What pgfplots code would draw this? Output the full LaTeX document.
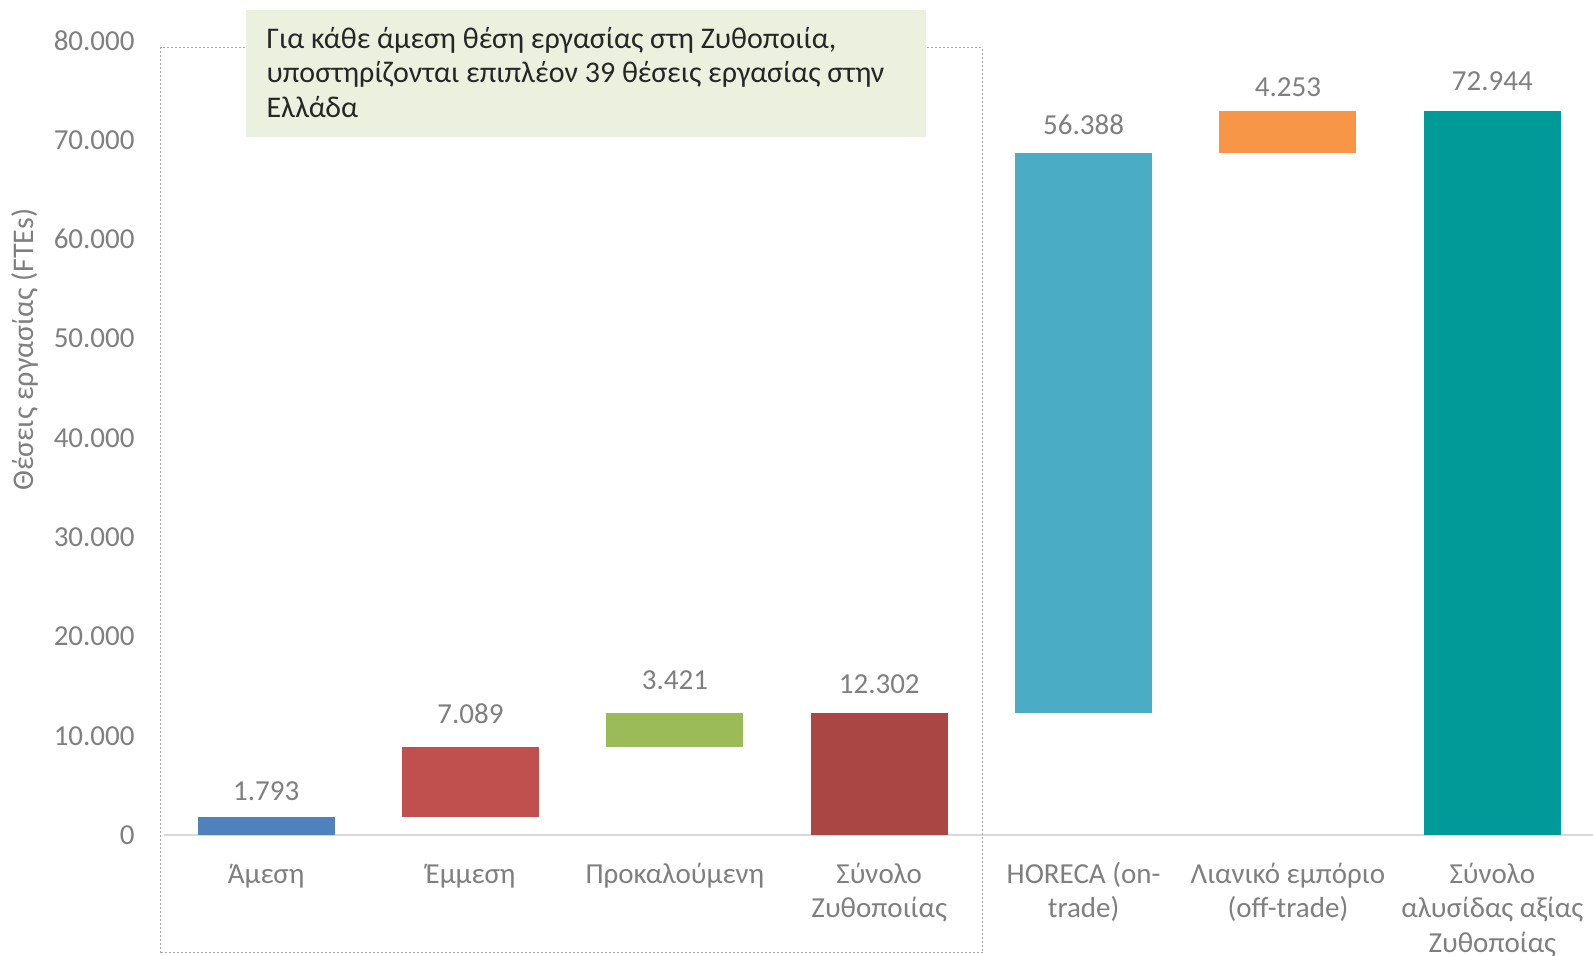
\documentclass[border=0pt]{standalone}
\usepackage{fontspec}
\setmainfont{Carlito}
\usepackage{pgfplots}
\usepackage{pgfplotstable}
\pgfplotsset{compat=1.18}
\definecolor{cA}{HTML}{4F81BD}
\definecolor{cB}{HTML}{C0504D}
\definecolor{cC}{HTML}{9BBB59}
\definecolor{cD}{HTML}{AA4644}
\definecolor{cE}{HTML}{4BACC6}
\definecolor{cF}{HTML}{F79646}
\definecolor{cG}{HTML}{009A98}
\definecolor{labgray}{HTML}{7F7F7F}
\definecolor{axisgray}{HTML}{D9D9D9}
\definecolor{boxbg}{HTML}{EBF1DE}
\definecolor{boxtext}{HTML}{262626}
\definecolor{dotgray}{HTML}{A6A6A6}
\newcommand\lf{\fontsize{14.5}{17.25}\selectfont}
\newcommand\bxf{\fontsize{15}{17.25}\selectfont}

% floating (waterfall) bars: invisible base + visible segment
\pgfplotstableread{
x base  v0   v1   v2   v3    v4    v5   v6    l0    l1    l2    l3     l4     l5    l6
0 0     1793 0    0    0     0     0    0     1.793 {}    {}    {}     {}     {}    {}
1 1793  0    7089 0    0     0     0    0     {}    7.089 {}    {}     {}     {}    {}
2 8882  0    0    3421 0     0     0    0     {}    {}    3.421 {}     {}     {}    {}
3 0     0    0    0    12302 0     0    0     {}    {}    {}    12.302 {}     {}    {}
4 12302 0    0    0    0     56388 0    0     {}    {}    {}    {}     56.388 {}    {}
5 68690 0    0    0    0     0     4253 0     {}    {}    {}    {}     {}     4.253 {}
6 0     0    0    0    0     0     0    72944 {}    {}    {}    {}     {}     {}    72.944
}\data

\begin{document}
\begin{tikzpicture}
\path[use as bounding box] (-82pt,-60.4pt) rectangle (714.5pt,417.6pt);
\clip (-82pt,-60.4pt) rectangle (714.5pt,417.6pt);
\begin{axis}[
  at={(0,0)}, anchor=south west,
  scale only axis, width=715.25pt, height=397.3pt,
  xmin=-0.5, xmax=6.5, ymin=0, ymax=80000,
  enlargelimits=false,
  scaled y ticks=false,
  ybar stacked, bar width=68.5pt,
  axis lines*=left,
  y axis line style={draw=none},
  x axis line style={draw=axisgray, line width=0.75pt},
  major tick length=0pt,
  tick style={draw=none},
  xtick={0,1,2,3,4,5,6},
  xticklabels={{\strut Άμεση},{\strut Έμμεση},{\strut Προκαλούμενη},{\strut Σύνολο\\Ζυθοποιίας},{\strut HORECA (on-\\trade)},{\strut Λιανικό εμπόριο\\(off-trade)},{\strut Σύνολο\\αλυσίδας αξίας\\Ζυθοποίας}},
  ytick={0,10000,20000,30000,40000,50000,60000,70000,80000},
  yticklabels={0,10.000,20.000,30.000,40.000,50.000,60.000,70.000,80.000},
  tick label style={font=\lf, text=labgray},
  xticklabel style={anchor=north, inner sep=0pt, yshift=-11.8pt, align=center},
  yticklabel style={anchor=east, inner sep=0pt, xshift=-14.5pt},
  ylabel={Θέσεις εργασίας (FTEs)},
  every axis y label/.style={at={(axis description cs:-0.0972,0.611)}, rotate=90, anchor=center, font=\bxf, text=labgray},
  point meta=explicit symbolic,
  nodes near coords={\pgfplotspointmeta},
  every node near coord/.append style={font=\lf, text=labgray, inner sep=0pt, anchor=south},
  clip=false,
]
\addplot[draw=none, fill=none, nodes near coords={}] table[x=x, y=base, meta=l0] {\data};
\addplot[fill=cA, draw=none, every node near coord/.append style={yshift=12.65pt}] table[x=x, y=v0, meta=l0] {\data};
\addplot[fill=cB, draw=none, every node near coord/.append style={yshift=28.9pt}] table[x=x, y=v1, meta=l1] {\data};
\addplot[fill=cC, draw=none, every node near coord/.append style={yshift=19.8pt}] table[x=x, y=v2, meta=l2] {\data};
\addplot[fill=cD, draw=none, every node near coord/.append style={yshift=39.75pt}] table[x=x, y=v3, meta=l3] {\data};
\addplot[fill=cE, draw=none, every node near coord/.append style={yshift=148.9pt}] table[x=x, y=v4, meta=l4] {\data};
\addplot[fill=cF, draw=none, every node near coord/.append style={yshift=17.56pt}] table[x=x, y=v5, meta=l5] {\data};
\addplot[fill=cG, draw=none, every node near coord/.append style={yshift=190.8pt}] table[x=x, y=v6, meta=l6] {\data};
\end{axis}
\draw[dotgray, line width=0.5pt, dash pattern=on 1pt off 1pt] (-1.75pt,-58.9pt) rectangle (409.25pt,393.7pt);
\fill[boxbg] (40.95pt,349pt) rectangle (380.8pt,412.5pt);
\node[anchor=north west, inner sep=0pt, align=left, font=\bxf, text=boxtext] at (51.1pt,405.7pt)
  {\strut Για κάθε άμεση θέση εργασίας στη Ζυθοποιία,\\υποστηρίζονται επιπλέον 39 θέσεις εργασίας στην\\Ελλάδα};
\end{tikzpicture}
\end{document}
